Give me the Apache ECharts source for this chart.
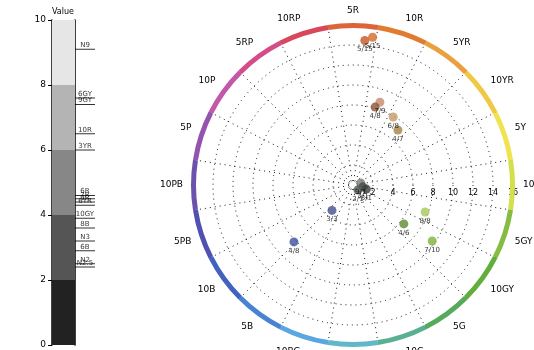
<!DOCTYPE html>
<html><head><meta charset="utf-8">
<script src="https://cdn.jsdelivr.net/npm/echarts@6/dist/echarts.min.js"></script>
<style>html,body{margin:0;padding:0;background:#fff}#c{width:534px;height:350px}</style>
</head><body><div id="c"></div>
<script>
// Munsell hue circle labels (clockwise from top)
const hueLabels = ['5R','10R','5YR','10YR','5Y','10Y','5GY','10GY','5G','10G','5BG','10BG','5B','10B','5PB','10PB','5P','10P','5RP','10RP'];
const ringColors = ['#dc6438','#e07c30','#e9a03e','#f0c848','#f0e250','#d2e04e','#86bc42','#62ae3c','#56aa5c','#58b090','#62b8c8','#5aa6e0','#4a82d2','#4262c0','#5250b0','#6c52ac','#9454ae','#c258a8','#d44c8a','#d84858'];
// Value scale (left bar)
const valueBandHeights = [2,2,2,2,2];
const valueBandColors = ['#222222','#555555','#878787','#b4b4b4','#e6e6e6'];
// Samples
const sampleNames  = ['6R','7R','10R','9R','3YR','6YR','N9','N3','N2','N2.5','6B','8B','10GY','6GY','9GY'];
const sampleHue    = [6.3, 7.1, 10.0, 9.4, 13.5, 15.9, 26, 33, 34.7, 42.5, 66, 67.8, 40.4, 35.7, 39.8];
const sampleValue  = [4.6, 4.5, 6.5, 4.4, 6.0, 4.3, 9.1, 3.2, 2.5, 2.4, 2.9, 3.6, 3.9, 7.6, 7.4];
const sampleChroma = [14.5, 14.9, 8.7, 8.1, 7.9, 7.1, 0.8, 1.0, 1.4, 0.7, 3.3, 8.2, 6.4, 7.7, 9.7];
const sampleColors = ['#c65526','#cf6a2c','#c48870','#8b5434','#c49a66','#a3823e','#7a7a76','#4a4a4a','#3a3d3a','#555a55','#44508c','#3c50a0','#5e8a30','#a6c85a','#80b23a'];

const FONT = 'DejaVu Sans';
const chart = echarts.init(document.getElementById('c'), null, {renderer:'canvas'});
const C = [353,185], R = 160;

const barSeries = valueBandHeights.map((h,i)=>({
  type:'bar', stack:'v', xAxisIndex:0, yAxisIndex:0, barWidth:'100%',
  data:[h], itemStyle:{color:valueBandColors[i]}, silent:true
}));

chart.setOption({
  animation:false,
  textStyle:{fontFamily:FONT},
  grid:{left:52, top:20, width:23, height:325},
  xAxis:[
    {type:'category', data:['V'], show:false},
    {type:'value', min:0, max:1, show:false}
  ],
  yAxis:[
    {type:'value', min:0, max:10, interval:2, name:'Value', nameGap:4,
     nameTextStyle:{fontSize:8, color:'#000', align:'left'},
     axisLine:{show:true, lineStyle:{color:'#000', width:1.5}},
     axisTick:{show:true, length:4, lineStyle:{color:'#000'}},
     axisLabel:{fontSize:9, color:'#000', margin:6},
     splitLine:{show:false}},
    {type:'value', min:0, max:10, position:'right',
     axisLine:{show:true, lineStyle:{color:'#000', width:1.5}},
     axisTick:{show:false}, axisLabel:{show:false}, splitLine:{show:false}}
  ],
  polar:[
    {center:C, radius:R},
    {center:C, radius:R},
    {center:C, radius:R},
    {center:C, radius:[R-3, R+2]}
  ],
  angleAxis:[
    {polarIndex:0, type:'category', data:hueLabels, startAngle:99, clockwise:true, boundaryGap:true,
     axisLine:{show:false}, axisTick:{show:false},
     axisLabel:{interval:0, fontSize:9, color:'#000', margin:10},
     splitLine:{show:true, interval:0, lineStyle:{color:'#111', type:[1,4], width:1}}},
    {polarIndex:1, type:'value', min:0, max:100, startAngle:108, clockwise:true, show:false},
    {polarIndex:2, type:'value', min:0, max:100, startAngle:0, show:false},
    {polarIndex:3, type:'category', data:hueLabels, startAngle:99, clockwise:true, show:false}
  ],
  radiusAxis:[
    {polarIndex:0, type:'value', min:0, max:16, show:false},
    {polarIndex:1, type:'value', min:0, max:16, show:false},
    {polarIndex:2, type:'value', min:0, max:16, interval:2,
     axisLine:{show:false}, axisTick:{show:false},
     axisLabel:{fontSize:8, color:'#000', margin:-12, showMinLabel:false},
     splitLine:{show:true, lineStyle:{color:'#111', type:[1,4], width:1}}},
    {polarIndex:3, type:'value', min:0, max:1, show:false}
  ],
  series:[
    ...barSeries,
    {type:'scatter', xAxisIndex:1, yAxisIndex:0, clip:false, symbol:'rect', symbolSize:[20,1],
     symbolOffset:[10,0], itemStyle:{color:'#000'},
     data: sampleValue.map((v,i)=>({value:[1,v], name:sampleNames[i]})),
     label:{show:true, position:'top', distance:0, fontSize:7, color:'#000', formatter:p=>p.name}},
    {type:'bar', coordinateSystem:'polar', polarIndex:3, barCategoryGap:'0%', silent:true,
     data: ringColors.map(c=>({value:1, itemStyle:{color:c}}))},
    {type:'scatter', coordinateSystem:'polar', polarIndex:1, symbolSize:9,
     data: sampleHue.map((h,i)=>({value:[sampleChroma[i], h], itemStyle:{color:sampleColors[i]},
       name: Math.round(sampleValue[i]) + '/' + Math.round(sampleChroma[i])})),
     label:{show:true, position:'bottom', distance:1, fontSize:7, color:'#000', formatter:p=>p.name}}
  ]
});
</script></body></html>
